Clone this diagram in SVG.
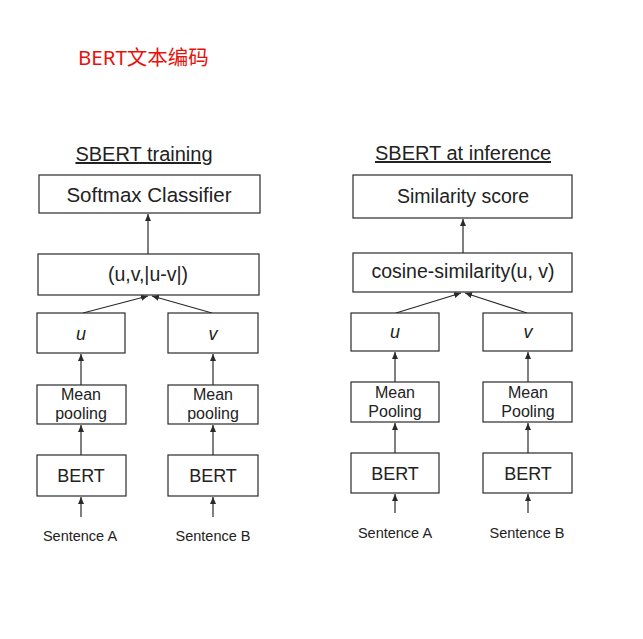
<svg xmlns="http://www.w3.org/2000/svg" width="643" height="639" viewBox="0 0 643 639">
<style>
.bg{fill:#ffffff}
.box{fill:#ffffff;stroke:#2a2a2a;stroke-width:1.2}
.t{font-family:"Liberation Sans",Arial,sans-serif;fill:#222;text-anchor:middle}
.title{font-size:20px;text-decoration:underline}
.big{font-size:19.5px}
.mid{font-size:18px}
.sm{font-size:16px}
.it{font-size:18px;font-style:italic}
.sent{font-size:14.5px}
.edge{stroke:#2a2a2a;stroke-width:1.2;fill:none;marker-end:url(#ah)}
.red{font-family:"Noto Sans","Noto Sans CJK SC",sans-serif;font-size:20.5px;fill:#e8120c}
</style>
<defs>
<marker id="ah" markerUnits="userSpaceOnUse" markerWidth="7" markerHeight="6" refX="7" refY="3" orient="auto">
<path d="M0,0 L7,3 L0,6 z" fill="#2a2a2a"/>
</marker>
</defs>
<rect class="bg" x="0" y="0" width="643" height="639"/>
<text class="red" x="78" y="65">BERT文本编码</text>

<text class="t title" x="144" y="161">SBERT training</text>
<text class="t title" x="463" y="160">SBERT at inference</text>

<g id="connectors">
<line class="edge" x1="148" y1="254" x2="148" y2="214"/>
<line class="edge" x1="83" y1="313" x2="148" y2="296"/>
<line class="edge" x1="212" y1="313" x2="152" y2="296"/>
<line class="edge" x1="81" y1="385" x2="81" y2="354"/>
<line class="edge" x1="213" y1="385" x2="213" y2="354"/>
<line class="edge" x1="81" y1="455" x2="81" y2="425"/>
<line class="edge" x1="213" y1="455" x2="213" y2="425"/>
<line class="edge" x1="81" y1="517" x2="81" y2="497"/>
<line class="edge" x1="213" y1="517" x2="213" y2="497"/>
<line class="edge" x1="463" y1="253" x2="463" y2="219"/>
<line class="edge" x1="396" y1="313" x2="461" y2="293"/>
<line class="edge" x1="527" y1="313" x2="465" y2="293"/>
<line class="edge" x1="395" y1="382" x2="395" y2="352"/>
<line class="edge" x1="528" y1="382" x2="528" y2="352"/>
<line class="edge" x1="395" y1="453" x2="395" y2="423"/>
<line class="edge" x1="528" y1="453" x2="528" y2="423"/>
<line class="edge" x1="395" y1="513" x2="395" y2="494"/>
<line class="edge" x1="528" y1="513" x2="528" y2="494"/>
</g>

<g id="softmax"><rect class="box" x="39" y="175" width="221" height="38"/><text class="t big" x="149" y="202" style="font-size:20.5px">Softmax Classifier</text></g>
<g id="concat"><rect class="box" x="38" y="254" width="221" height="41"/><text class="t big" x="148" y="281">(u,v,|u-v|)</text></g>
<g id="u_train"><rect class="box" x="37" y="313" width="88" height="40"/><text class="t it" x="81" y="340">u</text></g>
<g id="v_train"><rect class="box" x="168" y="313" width="90" height="40"/><text class="t it" x="213" y="340">v</text></g>
<g id="pool_a_train"><rect class="box" x="37" y="385" width="89" height="39"/><text class="t sm" x="81" y="400">Mean</text><text class="t sm" x="81" y="419">pooling</text></g>
<g id="pool_b_train"><rect class="box" x="168" y="385" width="90" height="39"/><text class="t sm" x="213" y="400">Mean</text><text class="t sm" x="213" y="419">pooling</text></g>
<g id="bert_a_train"><rect class="box" x="37" y="455" width="89" height="41"/><text class="t mid" x="81" y="482">BERT</text></g>
<g id="bert_b_train"><rect class="box" x="168" y="455" width="90" height="41"/><text class="t mid" x="213" y="482">BERT</text></g>
<g id="sent_a_train"><text class="t sent" x="80" y="541">Sentence A</text></g>
<g id="sent_b_train"><text class="t sent" x="213" y="541">Sentence B</text></g>

<g id="similarity"><rect class="box" x="353" y="175" width="219" height="43"/><text class="t big" x="463" y="203">Similarity score</text></g>
<g id="cosine"><rect class="box" x="353" y="253" width="219" height="39"/><text class="t big" x="463" y="278">cosine-similarity(u, v)</text></g>
<g id="u_inf"><rect class="box" x="351" y="313" width="88" height="38"/><text class="t it" x="395" y="338">u</text></g>
<g id="v_inf"><rect class="box" x="483" y="313" width="89" height="38"/><text class="t it" x="528" y="338">v</text></g>
<g id="pool_a_inf"><rect class="box" x="351" y="382" width="88" height="40"/><text class="t sm" x="395" y="398">Mean</text><text class="t sm" x="395" y="417">Pooling</text></g>
<g id="pool_b_inf"><rect class="box" x="483" y="382" width="89" height="40"/><text class="t sm" x="528" y="398">Mean</text><text class="t sm" x="528" y="417">Pooling</text></g>
<g id="bert_a_inf"><rect class="box" x="351" y="453" width="88" height="40"/><text class="t mid" x="395" y="480">BERT</text></g>
<g id="bert_b_inf"><rect class="box" x="483" y="453" width="89" height="40"/><text class="t mid" x="528" y="480">BERT</text></g>
<g id="sent_a_inf"><text class="t sent" x="395" y="538">Sentence A</text></g>
<g id="sent_b_inf"><text class="t sent" x="527" y="538">Sentence B</text></g>
</svg>
